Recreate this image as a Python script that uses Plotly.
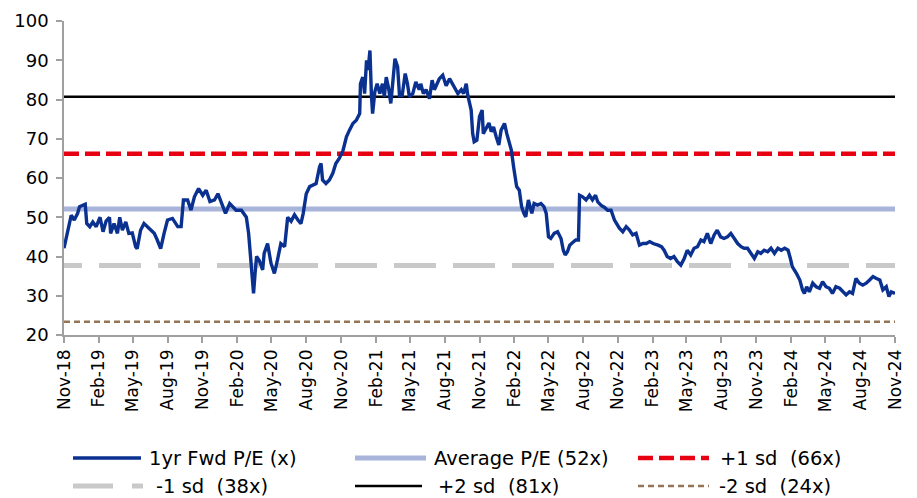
import plotly.graph_objects as go

# ---------------- data ----------------
pe_dates = [
    "2018-11-01","2018-11-11","2018-11-20","2018-11-28","2018-12-07","2018-12-12","2018-12-20","2018-12-27",
    "2018-12-31","2019-01-08","2019-01-16","2019-01-25","2019-02-04","2019-02-12","2019-02-20","2019-03-01",
    "2019-03-04","2019-03-13","2019-03-22","2019-03-28","2019-04-04","2019-04-13","2019-04-21","2019-04-30",
    "2019-05-09","2019-05-13","2019-05-22","2019-05-31","2019-06-09","2019-06-18","2019-06-27","2019-07-05",
    "2019-07-14","2019-07-23","2019-08-01","2019-08-14","2019-08-28","2019-09-06","2019-09-12","2019-09-23",
    "2019-10-02","2019-10-11","2019-10-22","2019-11-02","2019-11-11","2019-11-21","2019-12-03","2019-12-12",
    "2019-12-23","2020-01-01","2020-01-12","2020-01-20","2020-01-29","2020-02-12","2020-02-25","2020-03-02",
    "2020-03-08","2020-03-12","2020-03-15","2020-03-19","2020-03-23","2020-03-30","2020-04-08","2020-04-12",
    "2020-04-21","2020-04-30","2020-05-09","2020-05-17","2020-05-26","2020-06-05","2020-06-13","2020-06-22",
    "2020-07-01","2020-07-10","2020-07-18","2020-07-24","2020-08-01","2020-08-10","2020-08-19","2020-08-27",
    "2020-09-05","2020-09-09","2020-09-13","2020-09-22","2020-10-01","2020-10-10","2020-10-18","2020-10-27",
    "2020-11-06","2020-11-15","2020-11-23","2020-12-02","2020-12-11","2020-12-20","2020-12-22","2020-12-28",
    "2021-01-02","2021-01-07","2021-01-11","2021-01-16","2021-01-20","2021-01-23","2021-01-29","2021-02-04",
    "2021-02-11","2021-02-18","2021-02-23","2021-02-28","2021-03-06","2021-03-12","2021-03-16","2021-03-23",
    "2021-03-30","2021-04-04","2021-04-11","2021-04-19","2021-04-25","2021-04-30","2021-05-09","2021-05-17",
    "2021-05-26","2021-05-30","2021-06-06","2021-06-13","2021-06-22","2021-06-29","2021-07-05","2021-07-11",
    "2021-07-18","2021-07-27","2021-08-05","2021-08-14","2021-08-21","2021-08-27","2021-09-05","2021-09-14",
    "2021-09-20","2021-09-27","2021-10-01","2021-10-10","2021-10-14","2021-10-18","2021-10-25","2021-11-01",
    "2021-11-08","2021-11-11","2021-11-19","2021-11-26","2021-12-02","2021-12-08","2021-12-15","2021-12-22",
    "2021-12-28","2022-01-06","2022-01-12","2022-01-18","2022-01-24","2022-01-30","2022-02-07","2022-02-14",
    "2022-02-20","2022-02-26","2022-03-03","2022-03-10","2022-03-19","2022-03-25","2022-04-03","2022-04-12",
    "2022-04-20","2022-04-26","2022-05-02","2022-05-08","2022-05-17","2022-05-26","2022-06-04","2022-06-10",
    "2022-06-15","2022-06-21","2022-06-27","2022-07-04","2022-07-13","2022-07-20","2022-07-23","2022-07-31",
    "2022-08-09","2022-08-18","2022-08-26","2022-09-03","2022-09-09","2022-09-18","2022-09-27","2022-10-05",
    "2022-10-14","2022-10-23","2022-11-05","2022-11-14","2022-11-23","2022-12-01","2022-12-10","2022-12-19",
    "2022-12-28","2023-01-06","2023-01-15","2023-01-24","2023-02-02","2023-02-15","2023-02-24","2023-03-03",
    "2023-03-11","2023-03-20","2023-03-29","2023-04-07","2023-04-16","2023-04-25","2023-05-03","2023-05-12",
    "2023-05-21","2023-05-30","2023-06-08","2023-06-16","2023-06-25","2023-07-04","2023-07-13","2023-07-21",
    "2023-07-30","2023-08-08","2023-08-17","2023-08-26","2023-09-04","2023-09-13","2023-09-22","2023-09-30",
    "2023-10-09","2023-10-18","2023-10-27","2023-11-05","2023-11-13","2023-11-22","2023-12-01","2023-12-10",
    "2023-12-19","2023-12-28","2024-01-06","2024-01-15","2024-01-24","2024-01-30","2024-02-04","2024-02-15",
    "2024-02-24","2024-03-02","2024-03-07","2024-03-13","2024-03-20","2024-03-29","2024-04-07","2024-04-16",
    "2024-04-24","2024-05-03","2024-05-12","2024-05-20","2024-05-29","2024-06-08","2024-06-16","2024-06-25",
    "2024-07-04","2024-07-12","2024-07-21","2024-07-30","2024-08-08","2024-08-17","2024-08-26","2024-09-04",
    "2024-09-13","2024-09-22","2024-09-30","2024-10-09","2024-10-16","2024-10-22","2024-11-01",
]
pe_values = [
    42.1,46.7,50.5,49.3,51.0,52.7,53.0,53.3,
    48.4,47.6,48.8,47.6,50.0,46.3,49.0,50.0,
    45.9,48.4,45.9,50.0,46.7,48.8,45.9,46.0,
    42.5,42.0,46.7,48.4,47.6,46.7,45.9,44.2,
    42.0,45.9,49.3,49.7,47.6,47.6,54.4,54.4,
    51.8,55.2,57.3,55.6,56.9,54.0,54.4,56.0,
    53.0,51.0,53.5,52.7,51.8,51.8,50.0,45.9,
    37.4,33.2,30.6,35.7,40.0,39.0,36.6,40.8,
    43.3,38.3,35.7,39.1,43.3,42.5,50.0,49.0,
    50.6,49.3,48.4,51.0,56.0,57.8,58.2,58.6,
    62.8,63.7,59.5,58.6,59.5,61.2,63.7,65.0,
    67.0,70.5,72.2,73.9,74.7,76.4,84.0,85.7,
    81.5,90.0,87.5,92.5,81.0,76.4,82.0,84.0,
    81.5,84.0,80.7,85.7,83.0,79.0,83.0,90.4,
    88.3,81.0,81.0,86.6,84.0,80.7,81.5,84.5,
    82.5,84.0,81.5,82.5,80.2,84.9,82.5,84.0,
    85.3,86.2,83.5,85.3,84.0,82.8,81.5,82.5,
    81.5,84.0,81.1,77.3,71.3,69.2,69.6,75.6,
    77.3,71.3,73.0,74.0,71.8,73.0,70.5,68.4,
    72.2,73.9,71.3,68.8,67.1,62.8,57.8,56.9,
    52.7,51.0,50.1,54.4,51.0,53.5,53.1,53.5,
    52.7,51.0,45.0,44.6,45.9,46.3,44.6,41.6,
    40.4,41.2,42.9,43.5,44.2,44.2,55.6,55.2,
    54.4,55.6,54.4,55.6,53.9,53.0,52.5,51.8,
    51.8,49.3,47.2,46.3,47.6,46.8,45.5,45.9,
    42.9,43.3,43.3,43.8,43.3,42.9,42.5,41.6,
    40.0,39.5,40.0,38.7,37.8,39.5,41.6,40.4,
    42.1,42.5,44.2,43.8,45.9,43.3,45.5,46.7,
    45.0,44.6,45.0,45.9,44.6,43.3,42.5,42.1,
    42.1,40.8,39.5,41.2,40.8,41.6,41.2,42.1,
    40.8,42.1,41.6,42.1,41.6,39.5,37.4,35.7,
    34.0,31.5,30.6,32.3,31.0,33.2,32.3,31.9,
    33.6,32.3,31.9,30.6,32.3,31.9,31.0,30.2,
    31.0,30.6,34.4,33.2,32.7,33.2,34.0,34.9,
    34.4,34.0,31.5,32.3,29.8,31.0,30.6,
]

band_dates = ["2018-11-01", "2024-11-01"]
avg_pe = 52.1
plus1_sd = 66.2
minus1_sd = 37.7
plus2_sd = 80.7
minus2_sd = 23.4

legend_labels = ["1yr Fwd P/E (x)", "Average P/E (52x)", "+1 sd\u00a0 (66x)",
                 "-1 sd\u00a0 (38x)", "+2 sd\u00a0 (81x)", "-2 sd\u00a0 (24x)"]

# ---------------- styles ----------------
C_PE = "#0B3190"
C_AVG = "#A8B4D9"
C_P1 = "#E60012"
C_M1 = "#C9C9C9"
C_P2 = "#000000"
C_M2 = "#957555"
FONT = "DejaVu Sans"

# grey dashes start with a short piece at the axis, as in the original
GREY_DASH = "18px,17px," + ",".join(["42px,17px"] * 15)

W, H = 917, 498
L, R, T, B = 64, 22, 21, 163
PW, PH = W - L - R, H - T - B

fig = go.Figure()

def band(val, color, width, dash, name):
    fig.add_trace(go.Scatter(x=band_dates, y=[val, val], mode="lines", name=name,
                             line=dict(color=color, width=width, dash=dash),
                             hoverinfo="skip", showlegend=False))

band(minus2_sd, C_M2, 2.5, "6px,4px", legend_labels[5])
band(minus1_sd, C_M1, 5, GREY_DASH, legend_labels[3])
band(avg_pe, C_AVG, 5, "solid", legend_labels[1])
band(plus1_sd, C_P1, 4.5, "15px,6px", legend_labels[2])
band(plus2_sd, C_P2, 2.5, "solid", legend_labels[4])

fig.add_trace(go.Scatter(x=pe_dates, y=pe_values, mode="lines", name=legend_labels[0],
                         line=dict(color=C_PE, width=3.4), showlegend=False))

# ---------------- manual legend (long symbol lines like the original) ----------------
def px2x(px):
    return (px - L) / PW

def py2y(py):
    return (T + PH - py) / PH

legend_items = [
    # (label idx, symbol x0, x1, text x, row y, color, width, dash)
    (0, 73, 141, 148, 458, C_PE, 3.4, "solid"),
    (1, 355, 426, 433, 458, C_AVG, 5, "solid"),
    (2, 638, 709, 719, 458, C_P1, 4.5, "15px,6px"),
    (3, 73, 143, 155, 486, C_M1, 5, "40px,19px"),
    (4, 355, 422, 437, 486, C_P2, 2.5, "solid"),
    (5, 638, 709, 718, 486, C_M2, 2.5, "6px,4px"),
]
for idx, x0, x1, tx, ry, col, wd, ds in legend_items:
    fig.add_shape(type="line", xref="paper", yref="paper",
                  x0=px2x(x0), x1=px2x(x1), y0=py2y(ry), y1=py2y(ry),
                  line=dict(color=col, width=wd, dash=ds))
    fig.add_annotation(xref="paper", yref="paper", x=px2x(tx), y=py2y(ry),
                       text=legend_labels[idx], showarrow=False,
                       xanchor="left", yanchor="middle", borderpad=0,
                       font=dict(family=FONT, size=19.5, color="#000000"))

fig.update_layout(
    width=W, height=H,
    margin=dict(l=L, r=R, t=T, b=B, autoexpand=False),
    paper_bgcolor="white", plot_bgcolor="white",
    font=dict(family=FONT, size=18, color="#000000"),
    showlegend=False,
)
fig.update_xaxes(
    type="date", range=["2018-11-01", "2024-11-01"],
    tick0="2018-11-01", dtick="M3", tickformat="%b-%y", tickangle=-90,
    showgrid=False, zeroline=False,
    showline=True, linecolor="#A0A0A0", linewidth=1.5,
    ticks="outside", ticklen=6, tickcolor="#A0A0A0", tickwidth=1.5,
    tickfont=dict(family=FONT, size=17, color="#000000"),
)
fig.update_yaxes(
    range=[20, 100], tick0=20, dtick=10,
    showgrid=False, zeroline=False,
    showline=True, linecolor="#A0A0A0", linewidth=1.5,
    ticks="outside", ticklen=6, tickcolor="#A0A0A0", tickwidth=1.5,
    ticklabelstandoff=4,
    tickfont=dict(family=FONT, size=18, color="#000000"),
)

fig.write_html("out.html", config={"displayModeBar": False},
               post_script="document.body.style.margin='0';")
